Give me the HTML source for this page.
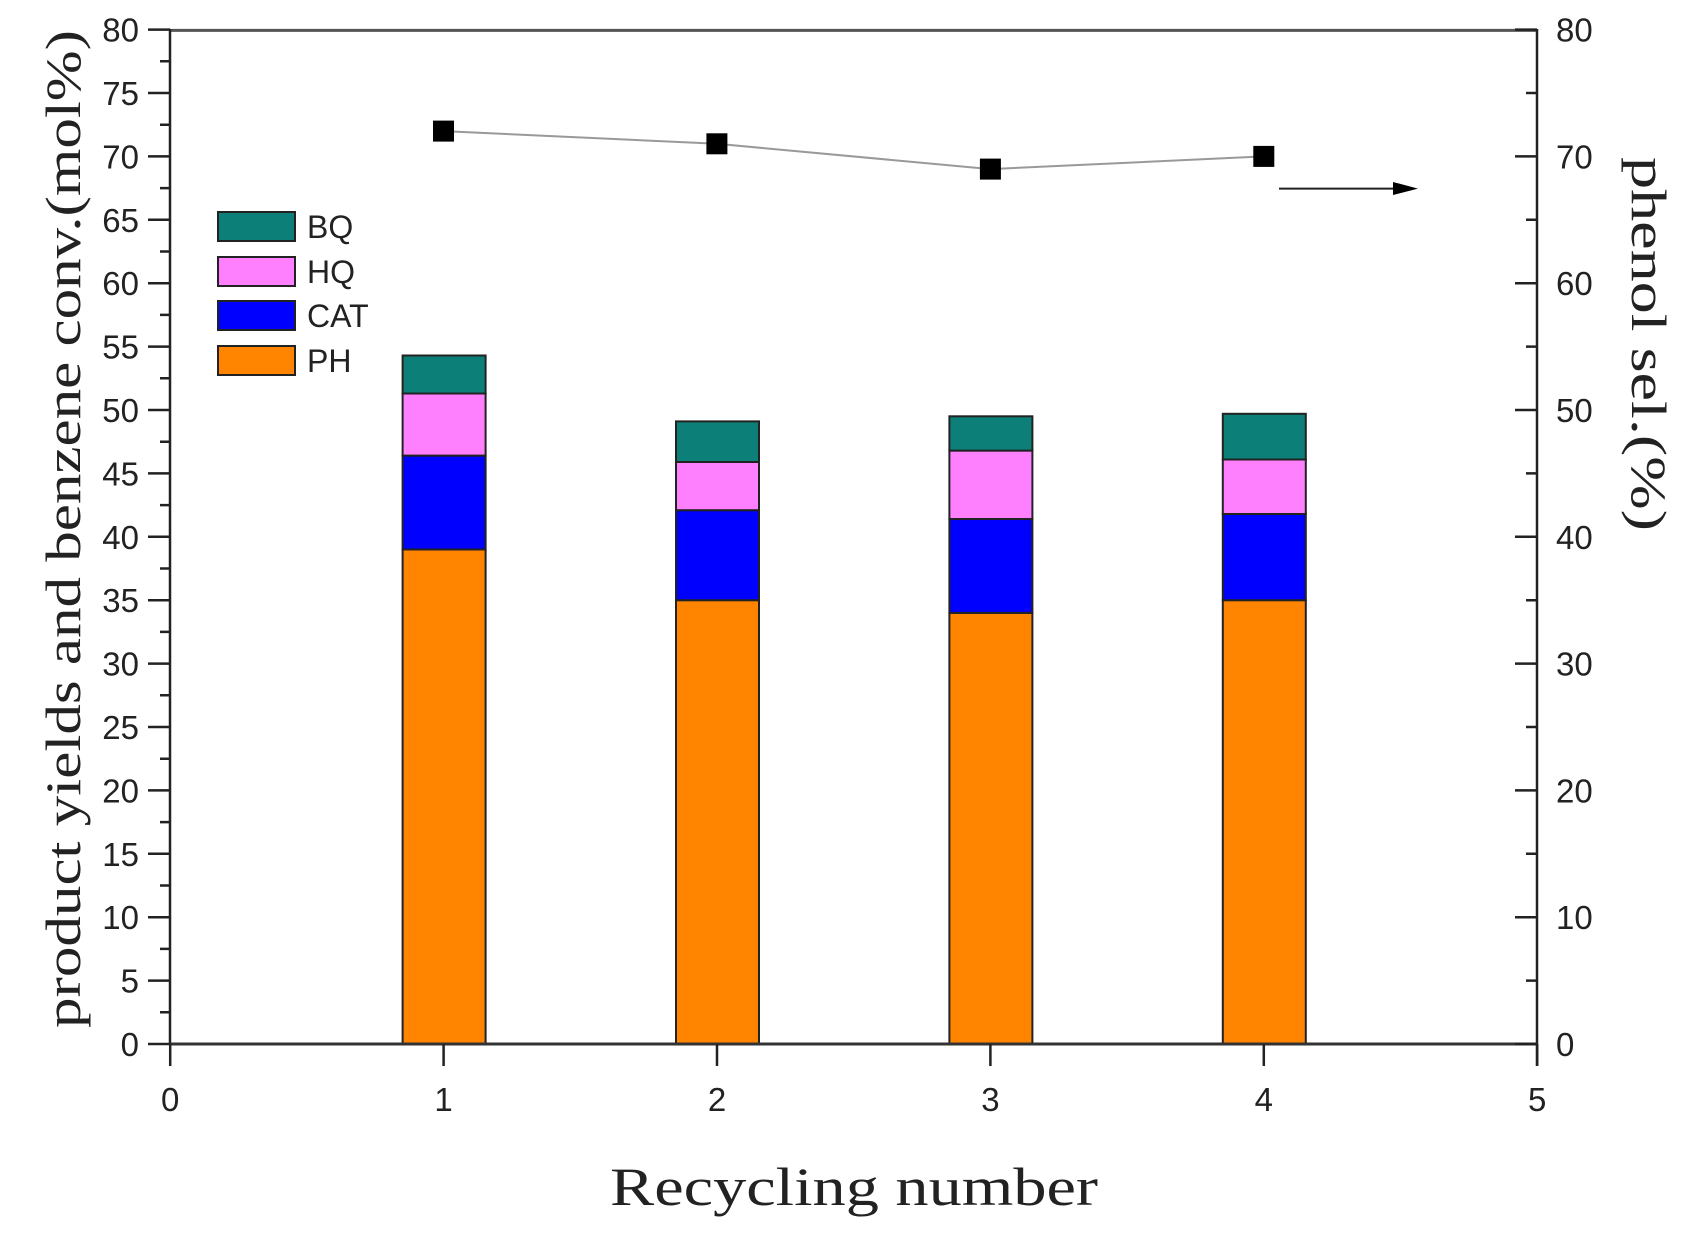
<!DOCTYPE html>
<html><head><meta charset="utf-8"><style>html,body{margin:0;padding:0;background:#fff}svg{display:block}</style></head>
<body>
<svg width="1700" height="1235" viewBox="0 0 1700 1235" xmlns="http://www.w3.org/2000/svg">
<rect width="1700" height="1235" fill="#fff"/>
<g stroke="#222" stroke-width="2">
<rect x="402.6" y="549.5" width="83" height="494.5" fill="#ff8400"/>
<rect x="402.6" y="455.6" width="83" height="93.9" fill="#0000ff"/>
<rect x="402.6" y="393.5" width="83" height="62.1" fill="#ff80ff"/>
<rect x="402.6" y="355.5" width="83" height="38" fill="#0c8078"/>
<rect x="676" y="600.2" width="83" height="443.8" fill="#ff8400"/>
<rect x="676" y="510.2" width="83" height="90" fill="#0000ff"/>
<rect x="676" y="462" width="83" height="48.2" fill="#ff80ff"/>
<rect x="676" y="421.4" width="83" height="40.6" fill="#0c8078"/>
<rect x="949.4" y="612.9" width="83" height="431.1" fill="#ff8400"/>
<rect x="949.4" y="519" width="83" height="93.9" fill="#0000ff"/>
<rect x="949.4" y="450.6" width="83" height="68.4" fill="#ff80ff"/>
<rect x="949.4" y="416.3" width="83" height="34.3" fill="#0c8078"/>
<rect x="1222.8" y="600.2" width="83" height="443.8" fill="#ff8400"/>
<rect x="1222.8" y="514" width="83" height="86.2" fill="#0000ff"/>
<rect x="1222.8" y="459.5" width="83" height="54.5" fill="#ff80ff"/>
<rect x="1222.8" y="413.8" width="83" height="45.7" fill="#0c8078"/>
</g>
<!-- axes -->
<line x1="170" y1="30.4" x2="1537" y2="30.4" stroke="#555" stroke-width="3"/>
<line x1="170" y1="29" x2="170" y2="1044" stroke="#222" stroke-width="2.5"/>
<line x1="1537" y1="29" x2="1537" y2="1066" stroke="#222" stroke-width="2.5"/>
<line x1="170" y1="1044" x2="1537" y2="1044" stroke="#333" stroke-width="3"/>
<path stroke="#222" stroke-width="2.5" fill="none" d="
M148 1044H170M148 980.6H170M148 917.2H170M148 853.8H170M148 790.4H170M148 727H170M148 663.6H170M148 600.2H170M148 536.8H170M148 473.4H170M148 410H170M148 346.6H170M148 283.2H170M148 219.8H170M148 156.4H170M148 93H170M148 29.6H170
M160 1012.3H170M160 948.9H170M160 885.5H170M160 822.1H170M160 758.7H170M160 695.3H170M160 631.9H170M160 568.5H170M160 505.1H170M160 441.7H170M160 378.3H170M160 314.9H170M160 251.5H170M160 188.1H170M160 124.7H170M160 61.3H170
M1515 1044H1537M1515 917.2H1537M1515 790.4H1537M1515 663.6H1537M1515 536.8H1537M1515 410H1537M1515 283.2H1537M1515 156.4H1537M1515 29.6H1537
M1526 980.6H1537M1526 853.8H1537M1526 727H1537M1526 600.2H1537M1526 473.4H1537M1526 346.6H1537M1526 219.8H1537M1526 93H1537
M170.2 1044V1066M443.6 1044V1066M717 1044V1066M990.4 1044V1066M1263.8 1044V1066M1537.2 1044V1066"/>
<g font-family="Liberation Sans, sans-serif" font-size="33" fill="#222" text-anchor="end">
<text x="139" y="1056">0</text><text x="139" y="992.6">5</text><text x="139" y="929.2">10</text><text x="139" y="865.8">15</text>
<text x="139" y="802.4">20</text><text x="139" y="739">25</text><text x="139" y="675.6">30</text><text x="139" y="612.2">35</text>
<text x="139" y="548.8">40</text><text x="139" y="485.4">45</text><text x="139" y="422">50</text><text x="139" y="358.6">55</text>
<text x="139" y="295.2">60</text><text x="139" y="231.8">65</text><text x="139" y="168.4">70</text><text x="139" y="105">75</text><text x="139" y="41.6">80</text>
</g>
<g font-family="Liberation Sans, sans-serif" font-size="33" fill="#222">
<text x="1556" y="1056">0</text><text x="1556" y="929.2">10</text><text x="1556" y="802.4">20</text><text x="1556" y="675.6">30</text>
<text x="1556" y="548.8">40</text><text x="1556" y="422">50</text><text x="1556" y="295.2">60</text><text x="1556" y="168.4">70</text><text x="1556" y="41.6">80</text>
</g>
<g font-family="Liberation Sans, sans-serif" font-size="33" fill="#222" text-anchor="middle">
<text x="170.2" y="1111">0</text><text x="443.6" y="1111">1</text><text x="717" y="1111">2</text><text x="990.4" y="1111">3</text><text x="1263.8" y="1111">4</text><text x="1537.2" y="1111">5</text>
</g>
<!-- selectivity line -->
<polyline points="443.5,131.1 716.9,143.8 990.4,169.1 1263.8,156.4" fill="none" stroke="#999" stroke-width="2"/>
<rect x="433" y="120.6" width="21" height="21" fill="#000"/>
<rect x="706.4" y="133.3" width="21" height="21" fill="#000"/>
<rect x="979.9" y="158.6" width="21" height="21" fill="#000"/>
<rect x="1253.3" y="145.9" width="21" height="21" fill="#000"/>
<!-- arrow -->
<line x1="1279" y1="188.6" x2="1395" y2="188.6" stroke="#222" stroke-width="2"/>
<polygon points="1393,182 1418,188.6 1393,195" fill="#000"/>
<!-- legend -->
<g stroke="#222" stroke-width="2">
<rect x="218" y="212" width="77" height="29" fill="#0c8078"/>
<rect x="218" y="257" width="77" height="29" fill="#ff80ff"/>
<rect x="218" y="301" width="77" height="29" fill="#0000ff"/>
<rect x="218" y="346" width="77" height="29" fill="#ff8400"/>
</g>
<g font-family="Liberation Sans, sans-serif" font-size="32" fill="#222">
<text x="307" y="238">BQ</text>
<text x="307" y="283">HQ</text>
<text x="307" y="327">CAT</text>
<text x="307" y="372">PH</text>
</g>
<!-- titles -->
<text transform="translate(80,1028) rotate(-90)" font-family="Liberation Serif, serif" font-size="50" fill="#222" textLength="998" lengthAdjust="spacingAndGlyphs">product yields and benzene conv.(mol%)</text>
<text transform="translate(1632,157) rotate(90)" font-family="Liberation Serif, serif" font-size="50" fill="#222" textLength="374" lengthAdjust="spacingAndGlyphs">phenol sel.(%)</text>
<text x="610" y="1205" font-family="Liberation Serif, serif" font-size="54" fill="#222" textLength="488" lengthAdjust="spacingAndGlyphs">Recycling number</text>
</svg>
</body></html>
